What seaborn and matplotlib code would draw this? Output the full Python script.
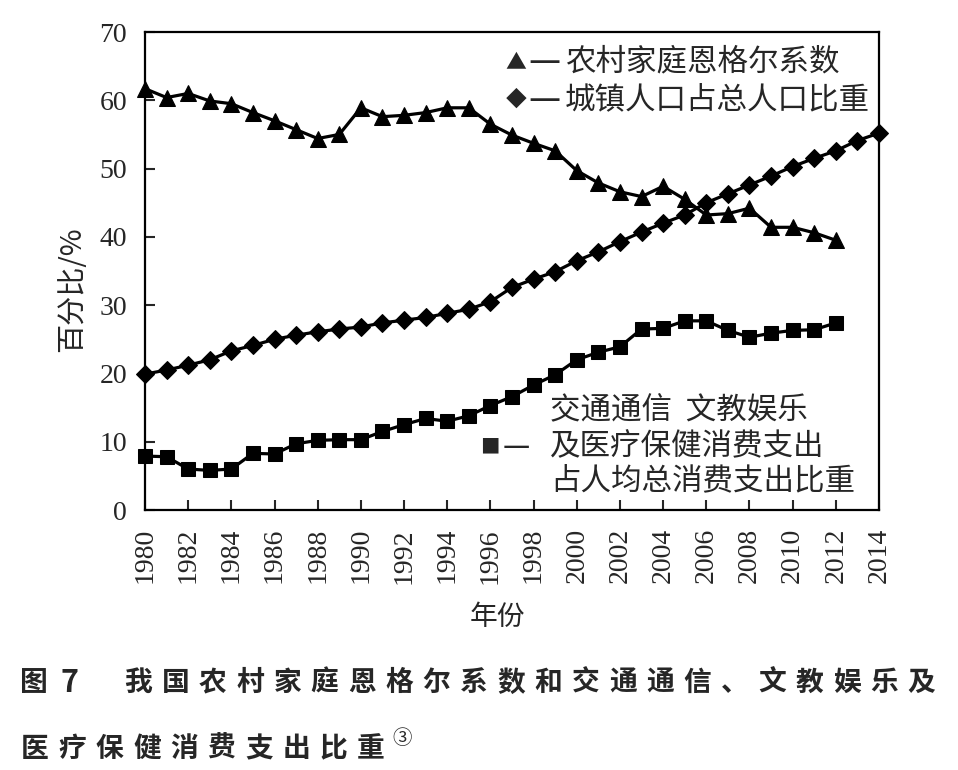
import numpy as np
import pandas as pd
import matplotlib
matplotlib.use("Agg")
import matplotlib.pyplot as plt
import seaborn as sns

# data
years_engel = list(range(1980, 2013))
engel = [61.7, 60.4, 61.0, 59.9, 59.5, 58.2, 57.0, 55.7, 54.4, 55.0,
         58.9, 57.6, 57.8, 58.2, 58.9, 58.9, 56.5, 54.9, 53.7, 52.6,
         49.7, 47.9, 46.6, 45.9, 47.4, 45.5, 43.2, 43.4, 44.2, 41.4,
         41.4, 40.6, 39.5]

years_urban = list(range(1980, 2015))
urban = [19.9, 20.5, 21.2, 22.0, 23.3, 24.1, 25.0, 25.6, 26.1, 26.5,
         26.8, 27.4, 27.8, 28.2, 28.8, 29.4, 30.5, 32.6, 33.8, 34.9,
         36.5, 37.8, 39.3, 40.7, 42.0, 43.2, 45.0, 46.3, 47.6, 48.9,
         50.3, 51.5, 52.6, 54.1, 55.2]

years_spend = list(range(1980, 2013))
spend = [7.9, 7.8, 6.0, 5.8, 6.0, 8.3, 8.2, 9.7, 10.2, 10.3,
         10.3, 11.5, 12.5, 13.4, 13.0, 13.8, 15.3, 16.6, 18.3, 19.8,
         22.0, 23.1, 23.9, 26.5, 26.6, 27.7, 27.7, 26.3, 25.3, 25.9,
         26.3, 26.4, 27.4]

xticks = list(range(1980, 2015, 2))
yticks = list(range(0, 71, 10))

label_engel = "农村家庭恩格尔系数"
label_urban = "城镇人口占总人口比重"
label_spend = ["交通通信  文教娱乐", "及医疗保健消费支出", "占人均总消费支出比重"]
caption_head = ["图", "7"]
caption1 = "我国农村家庭恩格尔系数和交通通信、文教娱乐及"
caption2 = "医疗保健消费支出比重"

sns.set_style("ticks")
cjk = ["Noto Sans CJK SC", "DejaVu Sans"]
serif = ["Liberation Serif", "DejaVu Serif"]
plt.rcParams["font.family"] = cjk
plt.rcParams["axes.unicode_minus"] = False

W, H = 958, 770
fig = plt.figure(figsize=(9.58, 7.7), dpi=100)
ax = fig.add_axes([145 / W, 1 - 510 / H, 734 / W, 478 / H])

df_e = pd.DataFrame({"year": years_engel, "value": engel})
df_u = pd.DataFrame({"year": years_urban, "value": urban})
df_s = pd.DataFrame({"year": years_spend, "value": spend})

kw = dict(color="black", linewidth=2.3, markeredgecolor="black", clip_on=False)
sns.lineplot(data=df_e, x="year", y="value", ax=ax, marker="^", markersize=12, **kw)
sns.lineplot(data=df_u, x="year", y="value", ax=ax, marker="D", markersize=9, **kw)
sns.lineplot(data=df_s, x="year", y="value", ax=ax, marker="s", markersize=10, **kw)

ax.set_xlim(1980, 2014)
ax.set_ylim(0, 70)
ax.set_xticks(xticks)
ax.set_yticks(yticks)
ax.set_xticklabels([str(t) for t in xticks], rotation=90, family=serif, fontsize=20)
ax.set_yticklabels([str(t) for t in yticks], family=serif, fontsize=20)
ax.tick_params(direction="in", length=7, width=1.5, pad=13, top=False, right=False)
for s in ax.spines.values():
    s.set_linewidth(1.6)
    s.set_color("black")

ax.set_xlabel("年份", fontsize=20)
ax.set_ylabel("百分比/%", fontsize=21)
ax.xaxis.set_label_coords((497 - 145) / 734, -(617 - 510) / 478)
ax.yaxis.set_label_coords(-(145 - 72) / 734, (510 - 289) / 478)
ax.xaxis.label.set_va("center")
ax.yaxis.label.set_va("center")


def put(x, y, s, **k):
    fig.text(x / W, 1 - y / H, s, va="center", **k)


# legend-like annotations inside the plot
put(516, 62, "▲", fontsize=15, ha="center", family=cjk)
put(544, 62, "—", fontsize=26, ha="center", family=cjk)
put(565, 62, label_engel, fontsize=22, ha="left", family=cjk)
put(516, 100, "◆", fontsize=15, ha="center", family=cjk)
put(544, 100, "—", fontsize=26, ha="center", family=cjk)
put(565, 100, label_urban, fontsize=22, ha="left", family=cjk)
put(550, 410, label_spend[0], fontsize=22, ha="left", family=cjk)
put(490, 447, "■", fontsize=14, ha="center", family=cjk)
put(516, 447, "—", fontsize=22, ha="center", family=cjk)
put(550, 447, label_spend[1], fontsize=22, ha="left", family=cjk)
put(550, 481, label_spend[2], fontsize=22, ha="left", family=cjk)

# caption, spaced out like the original typesetting
put(34, 683, caption_head[0], fontsize=20, ha="center", fontweight="bold", family=cjk)
put(70, 683, caption_head[1], fontsize=22, ha="center", fontweight="bold", family=cjk)
for i, ch in enumerate(caption1):
    put(138 + i * 37.3, 683, ch, fontsize=20, ha="center", fontweight="bold", family=cjk)
for i, ch in enumerate(caption2):
    put(35 + i * 37.3, 749, ch, fontsize=20, ha="center", fontweight="bold", family=cjk)
put(402, 738, "③", fontsize=14, ha="center", family=cjk)

fig.savefig("out.png", dpi=100, facecolor="white")
